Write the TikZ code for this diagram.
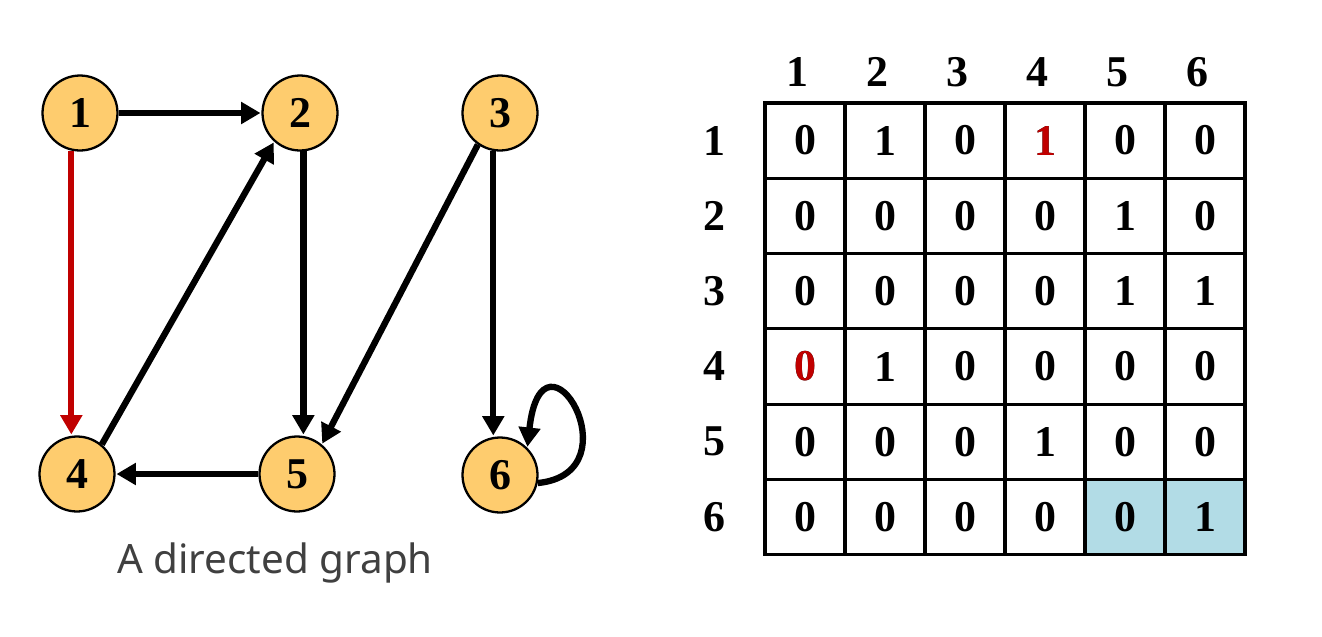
\documentclass[tikz,border=0pt]{standalone}
\usepackage{fontspec}
\setmainfont{Liberation Serif}
\newfontfamily\capfont{Noto Sans}
\usetikzlibrary{arrows.meta}

\definecolor{vertexfill}{RGB}{254,204,110}
\definecolor{hotred}{RGB}{192,0,0}
\definecolor{cellblue}{RGB}{178,220,230}
\definecolor{capgray}{RGB}{64,64,64}

\begin{document}
\begin{tikzpicture}[
    x=0.02cm, y=-0.02cm,
    font=\fontsize{25}{29}\selectfont\bfseries,
    vertex/.style={
        circle,
        draw=black,
        fill=vertexfill,
        line width=1.3pt,
        minimum size=1.5cm,
        inner sep=0pt
    },
    edge/.style={
        -{Triangle[length=11pt,width=12pt]},
        line width=3.6pt,
        shorten >=0.5pt
    },
    cell/.style={
        draw=black,
        line width=1.8pt,
        minimum width=1.6cm,
        minimum height=1.506cm,
        inner sep=0pt
    },
    lbl/.style={inner sep=0pt}
]
\useasboundingbox (0,0) rectangle (1322,636);

%-----------------------------------
% Graph
%-----------------------------------
\node[vertex] (n1) at (80,113)  {1};
\node[vertex] (n2) at (300,113) {2};
\node[vertex] (n3) at (500,113) {3};
\node[vertex] (n4) at (77,474)  {4};
\node[vertex] (n5) at (297,474) {5};
\node[vertex] (n6) at (500,475) {6};

\node[lbl, font=\capfont\fontsize{23}{28}\selectfont, text=capgray] (cap) at (275,563) {A directed graph};

%-----------------------------------
% Edges
%-----------------------------------
\draw[edge] (n1) -- (n2);
\draw[edge, hotred] (n1.257) -- (n1.257 |- n4.north);
\draw[edge] (n2.275) -- (n2.275 |- n5.north);
\draw[edge] (n4.50) -- (n2.228);
\draw[edge] (n5) -- (n4);
\draw[edge] (n3.235) -- (n5.50);
\draw[edge] (n3.260) -- (n3.260 |- n6.north);
\draw[edge] (n6.-12) .. controls +(100,-10) and +(15,-135) .. (n6.45);

%-----------------------------------
% Adjacency matrix
%-----------------------------------
\foreach \r/\row in {1/{0,1,0,1,0,0}, 2/{0,0,0,0,1,0}, 3/{0,0,0,0,1,1},
                     4/{0,1,0,0,0,0}, 5/{0,0,0,1,0,0}, 6/{0,0,0,0,0,1}} {
    \node[lbl] (r\r) at (714,{140.6+75.3*(\r-1)}) {\r};
    \foreach \v [count=\c] in \row {
        \node[cell] (c\r\c) at ({805+80*(\c-1)},{140.6+75.3*(\r-1)}) {\v};
    }
}
\foreach \c in {1,...,6} {
    \node[lbl] (h\c) at ({797+80*(\c-1)},72) {\c};
}

% highlighted cells
\node[cell, fill=cellblue] (b65) at (c65) {0};
\node[cell, fill=cellblue] (b66) at (c66) {1};
\node[cell, text=hotred] (x14) at (c14) {1};
\node[cell, text=hotred] (x41) at (c41) {0};

\end{tikzpicture}
\end{document}
